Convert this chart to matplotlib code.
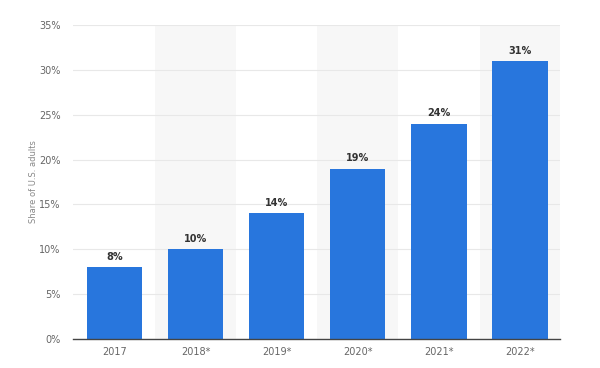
import matplotlib
matplotlib.use("Agg")
import matplotlib.pyplot as plt

years = ['2017', '2018*', '2019*', '2020*', '2021*', '2022*']
share = [8, 10, 14, 19, 24, 31]

fig = plt.figure(figsize=(6, 3.68), dpi=100)
ax = fig.add_axes([0.122, 0.079, 0.811, 0.853])

x = range(len(years))
# alternating shaded columns
for i in x:
    if i % 2 == 1:
        ax.axvspan(i - 0.5, i + 0.5, color='#f7f7f7', zorder=0, lw=0)

ax.bar(x, share, width=0.68, color='#2876dd', zorder=3)
for i, v in zip(x, share):
    ax.text(i, v + 0.6, f'{v}%', ha='center', va='bottom', fontsize=7,
            fontweight='bold', color='#333333', zorder=4)

ax.set_ylim(0, 35)
ax.set_xlim(-0.51, len(years) - 0.51)
ax.set_yticks(range(0, 36, 5))
ax.set_yticklabels([f'{t}%' for t in range(0, 36, 5)])
ax.set_xticks(list(x))
ax.set_xticklabels(years)
ax.tick_params(axis='both', length=0, labelsize=7, colors='#666666')
ax.tick_params(axis='x', pad=6)
ax.tick_params(axis='y', pad=9)
ax.grid(axis='y', color='#e8e8e8', lw=0.8, zorder=1)
for s in ['top', 'right', 'left']:
    ax.spines[s].set_visible(False)
ax.spines['bottom'].set_color('#444444')
ax.spines['bottom'].set_linewidth(1)
ax.spines['bottom'].set_zorder(5)
ax.set_ylabel('Share of U.S. adults', fontsize=6, color='#888888', labelpad=1)

fig.savefig('out.png', dpi=100)
